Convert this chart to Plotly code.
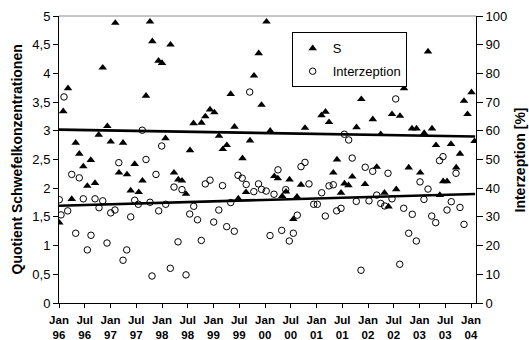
import plotly.graph_objects as go

# ---- data (decimal year) ----
s_time = [1996.006, 1996.083, 1996.175, 1996.247, 1996.324, 1996.394, 1996.472, 1996.550, 1996.617, 1996.699,
          1996.771, 1996.849, 1996.938, 1997.004, 1997.093, 1997.165, 1997.243, 1997.320, 1997.392, 1997.470,
          1997.548, 1997.621, 1997.689, 1997.767, 1997.812, 1997.932, 1998.000, 1998.068, 1998.165, 1998.233,
          1998.317, 1998.388, 1998.466, 1998.544, 1998.612, 1998.767, 1998.841, 1998.932, 1999.016, 1999.107,
          1999.181, 1999.258, 1999.334, 1999.408, 1999.482, 1999.563, 1999.631, 1999.709, 1999.786, 1999.878,
          1999.932, 2000.029, 2000.101, 2000.181, 2000.249, 2000.334, 2000.408, 2000.476, 2000.550, 2000.621,
          2000.699, 2000.777, 2001.097, 2001.175, 2001.243, 2001.326, 2001.398, 2001.476, 2001.544, 2001.621,
          2001.695, 2001.777, 2001.870, 2001.942, 2002.093, 2002.169, 2002.247, 2002.320, 2002.398, 2002.466,
          2002.548, 2002.621, 2002.699, 2002.790, 2002.854, 2002.942, 2003.014, 2003.091, 2003.165, 2003.243,
          2003.320, 2003.394, 2003.460, 2003.534, 2003.612, 2003.713, 2003.786, 2003.864, 2003.932, 2004.010,
          2004.068]
s_values = [1.40, 3.34, 3.74, 1.81, 2.79, 2.60, 2.38, 2.04, 2.49, 2.09,
            2.93, 4.10, 3.08, 2.81, 4.88, 2.27, 2.79, 2.24, 1.96, 2.42,
            1.93, 2.13, 3.61, 4.90, 4.56, 4.22, 4.18, 2.87, 4.50, 2.27,
            2.15, 2.13, 1.90, 2.66, 3.13, 3.14, 3.25, 3.37, 3.32, 2.91,
            2.68, 2.75, 3.64, 3.07, 1.82, 2.52, 1.93, 2.83, 3.96, 4.35,
            3.45, 4.90, 3.00, 2.21, 2.17, 1.86, 1.94, 2.15, 1.46, 1.85,
            2.06, 3.05, 3.27, 3.33, 3.15, 2.27, 2.50, 1.92, 2.08, 2.05,
            2.20, 3.06, 3.55, 2.07, 3.20, 2.37, 2.94, 1.92, 1.68, 3.29,
            1.98, 3.26, 3.74, 2.36, 3.04, 3.04, 2.27, 2.96, 4.38, 3.04,
            2.75, 1.88, 2.12, 2.12, 2.77, 2.36, 2.60, 3.52, 3.29, 3.67,
            2.82]

i_time = [1996.006, 1996.039, 1996.097, 1996.169, 1996.247, 1996.324, 1996.394, 1996.472, 1996.550, 1996.621,
          1996.699, 1996.777, 1996.849, 1996.932, 1997.004, 1997.087, 1997.161, 1997.243, 1997.315, 1997.392,
          1997.470, 1997.540, 1997.616, 1997.689, 1997.767, 1997.806, 1997.883, 1997.936, 1997.994, 1998.072,
          1998.161, 1998.233, 1998.311, 1998.388, 1998.466, 1998.538, 1998.616, 1998.689, 1998.763, 1998.841,
          1998.932, 1999.004, 1999.103, 1999.175, 1999.256, 1999.334, 1999.404, 1999.476, 1999.557, 1999.635,
          1999.703, 1999.783, 1999.874, 1999.932, 2000.023, 2000.097, 2000.175, 2000.252, 2000.324, 2000.402,
          2000.472, 2000.550, 2000.627, 2000.699, 2000.777, 2000.854, 2000.946, 2001.016, 2001.101, 2001.171,
          2001.243, 2001.326, 2001.392, 2001.476, 2001.540, 2001.625, 2001.693, 2001.773, 2001.864, 2001.946,
          2002.019, 2002.091, 2002.169, 2002.247, 2002.324, 2002.388, 2002.466, 2002.538, 2002.616, 2002.693,
          2002.790, 2002.860, 2002.938, 2003.010, 2003.087, 2003.165, 2003.237, 2003.315, 2003.388, 2003.456,
          2003.534, 2003.617, 2003.709, 2003.786, 2003.864]
i_values = [36.0, 30.7, 71.8, 32.1, 44.8, 24.3, 43.6, 36.3, 18.5, 23.6,
            36.3, 33.2, 35.6, 20.9, 31.4, 32.4, 48.9, 14.9, 18.5, 30.0,
            35.8, 34.4, 60.2, 50.0, 35.1, 9.4, 44.8, 32.1, 54.7, 34.4,
            12.1, 40.4, 21.3, 39.5, 9.8, 31.0, 33.7, 29.0, 21.8, 41.5,
            42.8, 28.2, 32.4, 40.9, 26.6, 35.0, 25.0, 44.5, 43.5, 41.3,
            73.5, 38.8, 41.5, 39.6, 39.0, 23.5, 37.9, 46.4, 25.3, 39.5,
            21.6, 24.3, 30.6, 47.5, 49.0, 41.5, 34.4, 34.4, 38.4, 30.3,
            40.8, 41.2, 32.1, 33.0, 58.8, 56.8, 50.5, 35.4, 11.4, 47.3,
            35.6, 45.9, 37.6, 34.7, 33.8, 45.2, 36.3, 71.1, 13.5, 33.0,
            24.3, 30.9, 21.6, 42.2, 36.1, 39.7, 30.3, 28.0, 49.6, 51.0,
            32.4, 35.3, 45.2, 33.3, 27.4]

trend_time = [1996.0, 2004.08]
s_trend = [3.02, 2.90]
i_trend = [33.9, 38.0]

x_tickvals = [1996 + 0.5 * k for k in range(17)]
x_ticktext = [("Jan" if k % 2 == 0 else "Jul") + "<br>" + str((96 + k // 2) % 100).zfill(2) for k in range(17)]

left_title = "Quotient Schwefelkonzentrationen"
right_title = "Interzeption [%]"

FONT = "Liberation Sans, Arial, sans-serif"

fig = go.Figure()
fig.add_trace(go.Scatter(x=s_time, y=s_values, mode="markers", name="S", legendgroup="s",
                         marker=dict(symbol="triangle-up", size=7.5, color="black", line=dict(width=0))))
fig.add_trace(go.Scatter(x=i_time, y=i_values, mode="markers", name="Interzeption", legendgroup="i",
                         yaxis="y2",
                         marker=dict(symbol="circle-open", size=6.5, color="black", line=dict(width=1, color="black"))))
fig.add_trace(go.Scatter(x=trend_time, y=s_trend, mode="lines", showlegend=False,
                         line=dict(color="black", width=2.6)))
fig.add_trace(go.Scatter(x=trend_time, y=i_trend, mode="lines", showlegend=False, yaxis="y2",
                         line=dict(color="black", width=2.6)))

fig.update_layout(
    template="none",
    width=529, height=340, autosize=False,
    margin=dict(l=59, r=53, t=16, b=37, pad=0),
    paper_bgcolor="white", plot_bgcolor="white",
    separators=", ",
    font=dict(family=FONT, size=13, color="black"),
    xaxis=dict(range=[1996.0, 2004.097], tickvals=x_tickvals, ticktext=x_ticktext, automargin=False,
               ticks="outside", ticklen=4, tickcolor="black", tickwidth=1,
               showline=True, linecolor="black", linewidth=1, showgrid=False, zeroline=False,
               tickfont=dict(family=FONT, size=11.5, weight="bold"), ticklabelstandoff=2),
    yaxis=dict(range=[0, 5], dtick=0.5, tick0=0, ticks="outside", ticklen=5, tickcolor="black",
               automargin=False,
               showline=True, linecolor="black", linewidth=1, showgrid=False, zeroline=False,
               tickfont=dict(family=FONT, size=13)),
    yaxis2=dict(range=[0, 100], dtick=10, tick0=0, overlaying="y", side="right",
                ticks="outside", ticklen=6, tickcolor="black", automargin=False,
                showline=True, linecolor="black", linewidth=1, showgrid=False, zeroline=False,
                tickfont=dict(family=FONT, size=13)),
    legend=dict(x=0.558, y=0.943, xanchor="left", yanchor="top",
                bordercolor="black", borderwidth=1, bgcolor="white",
                font=dict(family=FONT, size=13), traceorder="grouped", tracegroupgap=3),
    shapes=[dict(type="line", xref="paper", yref="paper", x0=0, x1=1, y0=1, y1=1,
                 line=dict(color="#8a8a8a", width=1))],
    annotations=[
        dict(text=left_title, xref="paper", yref="paper", x=-0.1031, y=0.5,
             xanchor="center", yanchor="middle", textangle=-90, showarrow=False,
             font=dict(family=FONT, size=14, weight="bold")),
        dict(text=right_title, xref="paper", yref="paper", x=1.1055, y=0.5,
             xanchor="center", yanchor="middle", textangle=-90, showarrow=False,
             font=dict(family=FONT, size=14, weight="bold")),
    ],
)

fig.write_html("out.html", config={"displayModeBar": False},
               post_script="document.body.style.margin='0';document.body.style.overflow='hidden';")
